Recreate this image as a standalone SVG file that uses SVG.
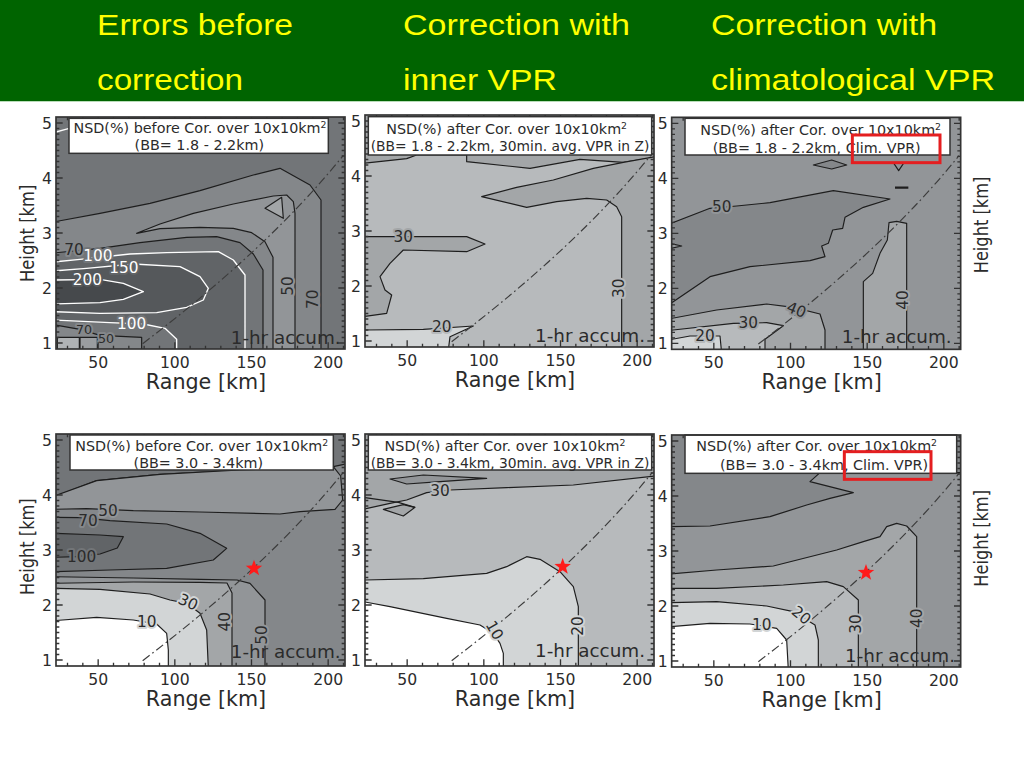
<svg xmlns="http://www.w3.org/2000/svg" xmlns:xlink="http://www.w3.org/1999/xlink" width="1024" height="768" viewBox="0 0 1024 768">
<style>
.hdr{font-family:"Liberation Sans",Arial,sans-serif;font-size:29px;fill:#ffff00}
.t{font-family:"DejaVu Sans",Verdana,sans-serif;fill:#2b2b2b}
.tk{font-size:47px}
.ax{font-size:62px;text-anchor:middle}
.hy{font-size:56px;text-anchor:middle}
.lg{font-size:43px;text-anchor:middle}
.acc{font-size:55px;text-anchor:end}
.cl{font-size:46px;text-anchor:middle;paint-order:stroke;stroke-width:12px;stroke-linejoin:round}
.wt{fill:#ffffff}
.ln{stroke:#1e1e1e;stroke-width:3.5;stroke-linejoin:round}
.wl{stroke:#ffffff;stroke-width:4;stroke-linejoin:round}
.f0{fill:#ffffff}.f1{fill:#d2d5d6}.f2{fill:#b7babc}.f3{fill:#a3a6a8}.f4{fill:#929598}.f5{fill:#84878a}.f6{fill:#727578}.f7{fill:#616467}.f8{fill:#55585b}.f9{fill:#46494c}
.h1{stroke:#d2d5d6}.h2{stroke:#b7babc}.h3{stroke:#a3a6a8}.h4{stroke:#929598}.h5{stroke:#84878a}.h6{stroke:#727578}.h7{stroke:#616467}.h8{stroke:#55585b}
.frm{fill:none;stroke:#333;stroke-width:5}
.tks{fill:none;stroke:#333;stroke-width:4}
.dd{fill:none;stroke:#3c3c3c;stroke-width:3.5;stroke-dasharray:26 10 5 10}
.box{fill:#fff;stroke:#333;stroke-width:4.5}
.red{fill:none;stroke:#e41e20;stroke-width:9}
.star{fill:#ff1a1a}
</style>
<defs>
<clipPath id="clip"><rect x="0" y="0" width="867" height="696"/></clipPath>
<path id="dd" class="dd" d="M260,680 Q639,392 862,115"/>
<path id="ytk" class="tks" d="M0,678h20M0,661.5h10M0,645h10M0,628.5h10M0,612h10M0,595.5h10M0,579h10M0,562.5h10M0,546h10M0,529.5h10M0,513h20M0,496.5h10M0,480h10M0,463.5h10M0,447h10M0,430.5h10M0,414h10M0,397.5h10M0,381h10M0,364.5h10M0,348h20M0,331.5h10M0,315h10M0,298.5h10M0,282h10M0,265.5h10M0,249h10M0,232.5h10M0,216h10M0,199.5h10M0,183h20M0,166.5h10M0,150h10M0,133.5h10M0,117h10M0,100.5h10M0,84h10M0,67.5h10M0,51h10M0,34.5h10M0,18h20"/>
<path id="xtk" class="tks" d="M34.5,696v-10M80.5,696v-10M126.5,696v-20M172.5,696v-10M218.5,696v-10M264.5,696v-10M310.5,696v-10M356.5,696v-20M402.5,696v-10M448.5,696v-10M494.5,696v-10M540.5,696v-10M586.5,696v-20M632.5,696v-10M678.5,696v-10M724.5,696v-10M770.5,696v-10M816.5,696v-20M862.5,696v-10"/>
<g id="ticks">
<use href="#ytk"/>
<use href="#ytk" transform="matrix(-1 0 0 1 867 0)"/>
<use href="#xtk"/>
<use href="#xtk" transform="matrix(1 0 0 -1 0 696)"/>
</g>
<rect id="frame" class="frm" x="0" y="0" width="867" height="696"/>
<g id="axl" class="t">
<text class="tk" text-anchor="middle" y="752"><tspan x="126.5">50</tspan><tspan x="356.5">100</tspan><tspan x="586.5">150</tspan><tspan x="816.5">200</tspan></text>
<text class="tk" text-anchor="end"><tspan x="-12" y="695">1</tspan><tspan x="-12" y="530">2</tspan><tspan x="-12" y="365">3</tspan><tspan x="-12" y="200">4</tspan><tspan x="-12" y="35">5</tspan></text>
<text class="ax" x="450" y="816">Range [km]</text>
</g>
<polygon id="star" class="star" points="0,-26 6.2,-8.6 24.7,-8 10.1,3.3 15.3,21 0,10.6 -15.3,21 -10.1,3.3 -24.7,-8 -6.2,-8.6"/>
</defs>

<g id="header">
<rect x="0" y="0" width="1024" height="101" fill="#006400"/>
<line x1="0" y1="101.5" x2="1024" y2="101.5" stroke="#b9dcb9" stroke-width="1"/>
<text class="hdr" x="97" y="35" textLength="196" lengthAdjust="spacingAndGlyphs">Errors before</text>
<text class="hdr" x="97" y="90" textLength="146" lengthAdjust="spacingAndGlyphs">correction</text>
<text class="hdr" x="403" y="35" textLength="227" lengthAdjust="spacingAndGlyphs">Correction with</text>
<text class="hdr" x="403" y="90" textLength="154" lengthAdjust="spacingAndGlyphs">inner VPR</text>
<text class="hdr" x="711" y="35" textLength="226" lengthAdjust="spacingAndGlyphs">Correction with</text>
<text class="hdr" x="711" y="90" textLength="284" lengthAdjust="spacingAndGlyphs">climatological VPR</text>
</g>

<!-- Panel 1 -->
<g id="panel1" transform="translate(56,117) scale(0.333333)">
<g clip-path="url(#clip)"><g transform="translate(-168,-51)">
<rect x="160" y="40" width="890" height="720" class="f6"/>
<polygon class="f5 ln" points="160,366 300,340 450,310 600,272 760,225 840,205 930,255 963,300 963,760 789,760 789,510 760,462 720,428 650,410 560,412 420,428 300,445 160,459"/>
<polygon class="f4 ln" points="410,400 480,372 580,340 700,312 820,288 860,285 880,305 885,340 885,760 819,760 819,472 795,425 755,398 700,385 600,382 480,386"/>
<polygon class="f3 ln" points="795,325 845,292 850,355"/>
<polygon class="f7 wl" points="160,486 240,478 390,462 500,458 655,455 700,480 735,525 735,760 530,760 530,718 495,685 430,672 330,668 160,660"/>
<polygon class="f8 wl" points="160,513 260,505 400,492 540,500 600,530 625,565 610,600 560,622 470,638 300,640 160,635"/>
<polygon class="f9 wl" points="160,540 300,538 370,550 430,575 370,598 300,608 160,612"/>
<polygon class="f5 ln" points="160,674 240,688 300,706 425,712 425,760 160,760"/>
<rect x="172" y="712" width="66" height="40" fill="#b0b3b5" class="ln"/>
<rect x="240" y="712" width="52" height="40" fill="#9a9da0" class="ln"/>
<polyline class="wl" fill="none" points="160,98 205,86"/>
</g></g>
<use href="#dd"/>
<g transform="translate(-168,-51)">
<text class="t cl h5" x="222" y="466">70</text>
<text class="t cl wt h6" x="294" y="484">100</text>
<text class="t cl wt h7" x="372" y="518">150</text>
<text class="t cl wt h8" x="262" y="554">200</text>
<text class="t cl wt h6" x="395" y="688">100</text>
<text class="t cl h5" x="252" y="703" style="font-size:38px">70</text>
<text class="t cl h5" x="318" y="728" style="font-size:38px">50</text>
<text class="t cl h4" transform="translate(862,558) rotate(-90)" y="17">50</text>
<text class="t cl h5" transform="translate(938,598) rotate(-90)" y="17">70</text>
</g>
<use href="#ticks"/>
<g transform="translate(-168,-51)">
<rect class="box" x="207" y="55" width="778" height="105"/>
<text class="t lg" x="600" y="100">NSD(%) before Cor. over 10x10km<tspan font-size="28" dy="-16">2</tspan></text>
<text class="t lg" x="598" y="150">(BB= 1.8 - 2.2km)</text>
<text class="t acc" x="1022" y="732">1-hr accum.</text>
</g>
<use href="#frame"/>
<use href="#axl"/>
<text class="t hy" transform="translate(-66,349) rotate(-90)" textLength="292" lengthAdjust="spacingAndGlyphs">Height [km]</text>
</g>

<!-- Panel 2 -->
<g id="panel2" transform="translate(365,115) scale(0.333333)">
<g clip-path="url(#clip)"><g transform="translate(-75,-45)">
<rect x="65" y="35" width="890" height="720" class="f2"/>
<polygon class="f3 ln" points="70,40 945,40 945,172 850,187 720,178 570,205 380,185 380,165 230,165 200,176 70,190"/>
<polygon class="f3 ln" points="850,187 945,170 945,750 845,750 845,350 830,320 800,300 740,295 650,305 560,322 425,290 530,262 640,240 760,205"/>
<polygon class="f3 ln" points="70,410 380,410 435,432 380,455 190,450 150,490 120,530 135,570 155,585 140,640 70,650"/>
<polygon class="f1 ln" points="70,690 250,688 400,678 330,710 325,750 70,750"/>
</g></g>
<use href="#dd"/>
<g transform="translate(-75,-45)">
<text class="t cl h3" x="190" y="427">30</text>
<text class="t cl h2" x="305" y="697">20</text>
<text class="t cl h2" transform="translate(835,565) rotate(-90)" y="17">30</text>
</g>
<use href="#ticks"/>
<g transform="translate(-75,-45)">
<rect class="box" x="85" y="50" width="850" height="115"/>
<text class="t lg" x="500" y="103">NSD(%) after Cor. over 10x10km<tspan font-size="28" dy="-16">2</tspan></text>
<text class="t lg" x="510" y="152" textLength="836" lengthAdjust="spacingAndGlyphs">(BB= 1.8 - 2.2km, 30min. avg. VPR in Z)</text>
<text class="t acc" x="915" y="725">1-hr accum.</text>
</g>
<use href="#frame"/>
<use href="#axl"/>
</g>

<!-- Panel 3 -->
<g id="panel3" transform="translate(671.67,117.33) scale(0.333333)">
<g clip-path="url(#clip)"><g transform="translate(-65,-52)">
<rect x="55" y="40" width="890" height="720" class="f4"/>
<polygon class="f5 ln" points="60,371 180,325 260,318 360,308 550,272 720,297 640,322 585,352 578,385 548,390 535,430 515,438 525,470 480,482 300,500 180,530 60,612"/>
<polygon class="f4 ln" points="60,430 95,438 60,446"/>
<polygon class="f5 ln" points="490,195 545,180 590,195 545,207"/>
<polyline class="ln" fill="none" points="730,188 746,212 762,188"/>
<line x1="735" y1="263" x2="775" y2="263" stroke="#1e1e1e" stroke-width="7"/>
<polygon class="f3 ln" points="60,656 200,630 350,612 430,622 510,642 525,690 525,760 60,760"/>
<polygon class="f3 ln" points="640,760 640,545 668,520 690,460 712,420 717,368 740,364 770,370 770,760"/>
<polygon class="f2 ln" points="60,691 250,670 350,668 400,677 345,718 345,760 60,760"/>
<polygon class="f1 ln" points="60,719 120,708 210,708 215,760 60,760"/>
</g></g>
<use href="#dd"/>
<g transform="translate(-65,-52)">
<text class="t cl h4" x="215" y="335">50</text>
<text class="t cl h4" transform="translate(440,628) rotate(22)" y="17">40</text>
<text class="t cl h3" x="295" y="685">30</text>
<text class="t cl h2" x="165" y="724">20</text>
<text class="t cl h3" transform="translate(757,600) rotate(-90)" y="17">40</text>
</g>
<use href="#ticks"/>
<g transform="translate(-65,-52)">
<rect class="box" x="105" y="55" width="795" height="110"/>
<text class="t lg" x="512" y="106">NSD(%) after Cor. over 10x10km<tspan font-size="28" dy="-16">2</tspan></text>
<text class="t lg" x="500" y="158">(BB= 1.8 - 2.2km, Clim. VPR)</text>
<rect class="red" x="607" y="105" width="263" height="83"/>
<text class="t acc" x="905" y="730">1-hr accum.</text>
</g>
<use href="#frame"/>
<use href="#axl"/>
<text class="t hy" transform="translate(950,323) rotate(-90)" textLength="290" lengthAdjust="spacingAndGlyphs">Height [km]</text>
</g>

<!-- Panel 4 -->
<g id="panel4" transform="translate(56,434) scale(0.333333)">
<g clip-path="url(#clip)"><g transform="translate(-168,-42)">
<rect x="160" y="35" width="890" height="720" class="f5"/>
<polygon class="f6 ln" points="160,35 1045,35 1045,130 1000,140 720,150 480,163 290,182 168,228 160,229"/>
<polygon class="f4 ln" points="160,229 290,182 480,163 720,150 1000,140 1022,168 1028,240 1005,268 900,275 840,282 600,276 400,272 260,266 160,268"/>
<polygon class="f6 ln" points="160,292 240,293 330,302 500,312 600,340 680,385 640,420 500,445 330,450 160,455"/>
<polygon class="f7 ln" points="160,340 300,345 370,350 352,384 300,402 230,410 160,412"/>
<polygon class="f4 ln" points="160,470 400,474 600,478 711,480 750,490 795,540 795,745 160,745"/>
<polygon class="f3 ln" points="160,490 400,486 600,487 681,489 696,519 696,745 160,745"/>
<polygon class="f1 ln" points="160,505 300,508 450,522 510,540 560,550 600,580 620,630 625,745 160,745"/>
<polygon class="f0 ln" points="160,602 290,592 400,600 470,612 500,640 505,690 505,745 160,745"/>
</g></g>
<use href="#dd"/>
<g transform="translate(-168,-42)">
<text class="t cl h4" x="324" y="289">50</text>
<text class="t cl h5" x="264" y="318">70</text>
<text class="t cl h6" x="245" y="427">100</text>
<text class="t cl h1" transform="translate(565,545) rotate(25)" y="17">30</text>
<text class="t cl h1" x="440" y="622">10</text>
<text class="t cl h3" transform="translate(673,605) rotate(-90)" y="17">40</text>
<text class="t cl h4" transform="translate(783,645) rotate(-90)" y="17">50</text>
<use href="#star" x="762" y="445"/>
</g>
<use href="#ticks"/>
<g transform="translate(-168,-42)">
<rect class="box" x="210" y="45" width="790" height="105"/>
<text class="t lg" x="605" y="93">NSD(%) before Cor. over 10x10km<tspan font-size="28" dy="-16">2</tspan></text>
<text class="t lg" x="595" y="143">(BB= 3.0 - 3.4km)</text>
<text class="t acc" x="1022" y="714">1-hr accum.</text>
</g>
<use href="#frame"/>
<use href="#axl"/>
<text class="t hy" transform="translate(-66,338) rotate(-90)" textLength="290" lengthAdjust="spacingAndGlyphs">Height [km]</text>
</g>

<!-- Panel 5 -->
<g id="panel5" transform="translate(365,434) scale(0.333333)">
<g clip-path="url(#clip)"><g transform="translate(-75,-42)">
<rect x="65" y="35" width="890" height="720" class="f2"/>
<polygon class="f3 ln" points="70,35 945,35 945,168 700,195 500,203 330,210 260,218 200,240 150,250 70,268"/>
<polygon class="f4 ln" points="150,177 250,165 440,175 300,185 200,192"/>
<polygon class="f3 ln" points="130,268 190,254 225,262 190,288"/>
<polyline class="ln" fill="none" points="70,232 175,247 225,262"/>
<polygon class="f1 ln" points="70,480 250,476 440,460 500,440 560,410 600,418 660,455 700,500 715,560 715,745 70,745"/>
<polygon class="f0 ln" points="70,545 150,560 320,595 420,615 460,640 480,670 490,700 490,745 70,745"/>
</g></g>
<use href="#dd"/>
<g transform="translate(-75,-42)">
<text class="t cl h2" x="300" y="229">30</text>
<text class="t cl h1" transform="translate(465,630) rotate(60)" y="17">10</text>
<text class="t cl h1" transform="translate(712,618) rotate(-90)" y="17">20</text>
<use href="#star" x="668" y="440"/>
</g>
<use href="#ticks"/>
<g transform="translate(-75,-42)">
<rect class="box" x="85" y="45" width="850" height="105"/>
<text class="t lg" x="495" y="93">NSD(%) after Cor. over 10x10km<tspan font-size="28" dy="-16">2</tspan></text>
<text class="t lg" x="510" y="143" textLength="836" lengthAdjust="spacingAndGlyphs">(BB= 3.0 - 3.4km, 30min. avg. VPR in Z)</text>
<text class="t acc" x="915" y="712">1-hr accum.</text>
</g>
<use href="#frame"/>
<use href="#axl"/>
</g>

<!-- Panel 6 -->
<g id="panel6" transform="translate(671.67,435) scale(0.333333)">
<g clip-path="url(#clip)"><g transform="translate(-65,-45)">
<rect x="55" y="35" width="890" height="720" class="f4"/>
<polygon class="f5 ln" points="60,40 940,40 940,158 510,158 480,185 610,218 540,235 470,255 360,290 180,318 60,320"/>
<polygon class="f3 ln" points="60,462 200,450 370,438 560,390 640,365 690,350 710,320 740,310 770,318 800,350 800,750 60,750"/>
<polygon class="f2 ln" points="60,505 200,505 400,495 530,485 580,500 625,540 625,750 60,750"/>
<polygon class="f1 ln" points="60,548 200,545 350,558 430,575 495,615 505,660 505,750 60,750"/>
<polygon class="f0 ln" points="60,620 180,610 300,612 380,625 410,660 415,750 60,750"/>
</g></g>
<use href="#dd"/>
<g transform="translate(-65,-45)">
<text class="t cl h3" transform="translate(800,595) rotate(-90)" y="17">40</text>
<text class="t cl h2" transform="translate(615,612) rotate(-90)" y="17">30</text>
<text class="t cl h1" transform="translate(455,585) rotate(40)" y="17">20</text>
<text class="t cl h1" x="335" y="629">10</text>
<use href="#star" x="648" y="458"/>
</g>
<use href="#ticks"/>
<g transform="translate(-65,-45)">
<rect class="box" x="105" y="45" width="815" height="115"/>
<text class="t lg" x="500" y="93">NSD(%) after Cor. over 10x10km<tspan font-size="28" dy="-16">2</tspan></text>
<text class="t lg" x="522" y="150">(BB= 3.0 - 3.4km, Clim. VPR)</text>
<rect class="red" x="583" y="95" width="260" height="83"/>
<text class="t acc" x="915" y="725">1-hr accum.</text>
</g>
<use href="#frame"/>
<use href="#axl"/>
<text class="t hy" transform="translate(950,310) rotate(-90)" textLength="290" lengthAdjust="spacingAndGlyphs">Height [km]</text>
</g>
</svg>
